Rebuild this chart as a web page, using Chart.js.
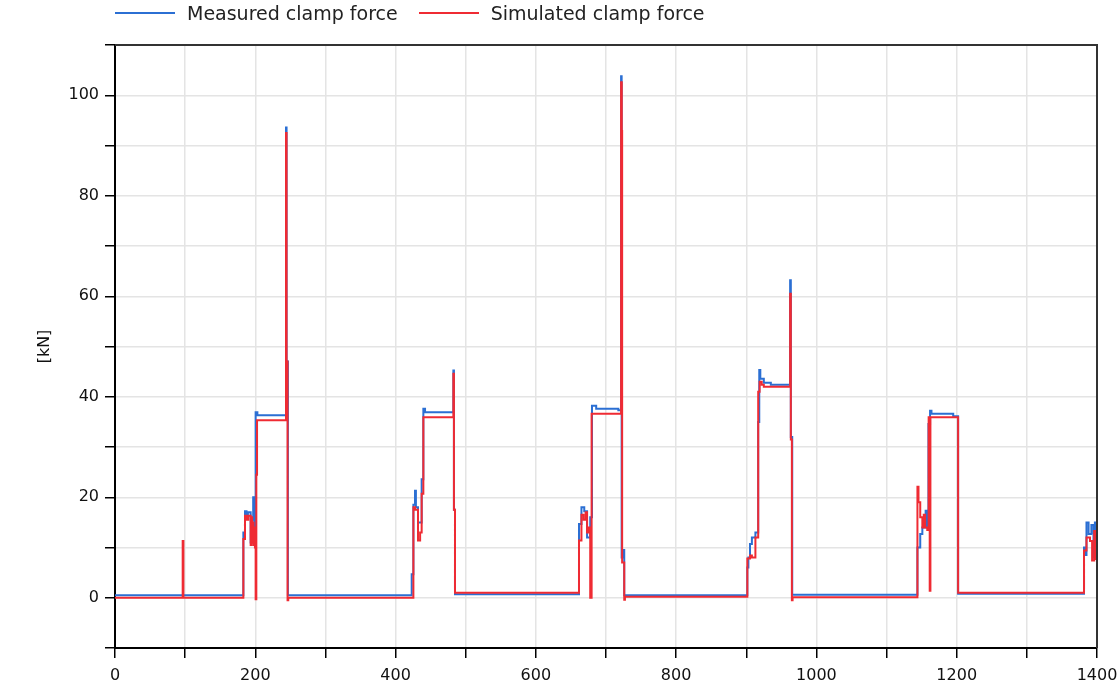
<!DOCTYPE html>
<html>
<head>
<meta charset="utf-8">
<script src="https://cdn.jsdelivr.net/npm/chart.js@4.4.1/dist/chart.umd.min.js"></script>
<style>
  body { margin: 0; background: #fff; }
  #wrap { position: relative; width: 1118px; height: 691px; }
  #legend { position: absolute; left: 115px; top: 0; height: 26px; display: flex; align-items: center;
    font-family: 'DejaVu Sans', sans-serif; font-size: 19px; color: #222; }
  #legend .line { display: inline-block; width: 60px; height: 0; border-top: 2px solid; margin-right: 12px; }
  #legend .item { display: flex; align-items: center; margin-right: 21px; }
</style>
</head>
<body>
<div id="wrap">
  <canvas id="clampChart" width="1118" height="691"></canvas>
  <div id="legend"></div>
</div>
<script>
// time [s] where the value changes, and the new value [kN]
const measuredTime = [0, 183, 185.3, 187.5, 189.5, 193.4, 195, 197, 198.5, 200.5, 203, 243.8, 244.6, 246.5,
  423, 425.4, 427.7, 429, 432, 437.2, 439.6, 442, 482.4, 483.2, 484.7,
  661.5, 665, 669, 673, 677.5, 680, 686, 717.6, 721.5, 722.3, 724, 726,
  901.5, 903, 905.3, 908, 913, 917, 918.5, 920, 925, 935, 962.5, 963.5, 965.5,
  1144, 1148, 1151, 1155.7, 1158, 1159.7, 1162, 1164, 1195, 1202,
  1381.5, 1383, 1385, 1388, 1392, 1395, 1397, 1399, 1400];
const measuredValue = [0.5, 13.0, 17.2, 16.4, 17.0, 11.0, 15.5, 20.0, 12.5, 36.9, 36.3, 93.6, 47.0, 0.5,
  4.7, 18.5, 21.3, 18.0, 15.0, 23.6, 37.6, 36.9, 45.2, 17.5, 0.7,
  14.7, 18.0, 17.2, 12.0, 16.0, 38.2, 37.6, 37.3, 103.8, 8.0, 9.5, 0.5,
  6.0, 8.0, 10.7, 12.0, 13.0, 35.0, 45.3, 43.6, 42.8, 42.4, 63.2, 32.0, 0.6,
  10.0, 12.7, 14.0, 17.3, 14.0, 34.6, 37.2, 36.6, 36.1, 0.8,
  10.0, 8.5, 15.0, 12.7, 14.5, 8.0, 15.0, 10.0, 10.0];

const simulatedTime = [0, 96.5, 97.5, 183, 185.3, 188, 190, 193.4, 194.5, 195.5, 196.5, 197.5, 198.5, 199.5,
  200.5, 201.5, 202.5, 243.8, 244.6, 246, 247,
  425.4, 428, 432, 435, 437.2, 439.6, 482.4, 483.2, 484.7,
  661.5, 665, 668, 671, 673, 675, 677.5, 679.5, 721.5, 722.5, 723, 726, 727,
  901.5, 905.3, 908, 913, 917, 919, 922, 925, 962.5, 963.5, 965, 966,
  1144, 1145.5, 1148, 1151, 1153, 1155, 1158, 1160, 1161.5, 1162.5, 1202,
  1381.5, 1385, 1390, 1393, 1396, 1398, 1400];
const simulatedValue = [0, 11.3, 0, 11.7, 16.3, 15.5, 16.3, 10.5, 16.0, 11.0, 15.0, 10.5, 14.0, 10.0,
  -0.3, 24.5, 35.3, 92.5, 47.0, -0.5, 0,
  18.0, 17.5, 11.4, 13.0, 20.7, 35.9, 44.6, 17.5, 1.0,
  11.4, 16.5, 15.5, 17.0, 13.0, 14.0, 0, 36.6, 102.6, 92.9, 7.0, -0.4, 0.2,
  7.8, 8.4, 8.0, 12.0, 41.0, 43.0, 42.4, 42.0, 60.5, 31.5, -0.5, 0.1,
  22.1, 19.0, 16.0, 14.0, 16.5, 14.0, 13.5, 35.9, 1.4, 35.9, 1.0,
  9.4, 12.0, 11.3, 7.4, 13.3, 7.7, 12.0];

const seriesNames = ['Measured clamp force', 'Simulated clamp force'];
const seriesColors = ['#2b6fd3', '#ef2b33'];

const xMin = 0, xMax = 1400, xStep = 100, xLabelStep = 200;
const yMin = -10, yMax = 110, yStep = 10, yLabelStep = 20;

const toPoints = (t, v) => t.map((x, i) => ({ x: x, y: v[i] }));

const tickFont = { family: "'DejaVu Sans', sans-serif", size: 16 };

// box round the plot: top and right edges
const frame = {
  id: 'frame',
  afterDraw(chart) {
    const { ctx, chartArea: a } = chart;
    ctx.save();
    ctx.strokeStyle = '#333';
    ctx.lineWidth = 2;
    ctx.beginPath();
    ctx.moveTo(a.left, a.top);
    ctx.lineTo(a.right, a.top);
    ctx.lineTo(a.right, a.bottom);
    ctx.stroke();
    ctx.restore();
  }
};

const chart = new Chart(document.getElementById('clampChart'), {
  type: 'line',
  data: {
    datasets: [{
      label: seriesNames[0],
      data: toPoints(measuredTime, measuredValue),
      borderColor: seriesColors[0],
      borderWidth: 2,
      stepped: true,
      pointRadius: 0,
      order: 2
    }, {
      label: seriesNames[1],
      data: toPoints(simulatedTime, simulatedValue),
      borderColor: seriesColors[1],
      borderWidth: 2,
      stepped: true,
      pointRadius: 0,
      order: 1
    }]
  },
  options: {
    responsive: false,
    animation: false,
    layout: { padding: { top: 45, right: 21, left: 0, bottom: 0 } },
    plugins: {
      legend: { display: false },
      tooltip: { enabled: false }
    },
    scales: {
      x: {
        type: 'linear',
        min: xMin,
        max: xMax,
        afterFit: (s) => { s.height = 43; s.paddingLeft = 0; s.paddingRight = 0; },
        grid: { color: '#e4e4e4', lineWidth: 1.5, tickColor: '#000', tickLength: 10, tickWidth: 1.5 },
        border: { color: '#000', width: 2 },
        ticks: {
          stepSize: xStep,
          autoSkip: false,
          maxRotation: 0,
          padding: 8,
          color: '#111',
          font: tickFont,
          callback: (v) => (v % xLabelStep === 0 ? v : '')
        }
      },
      y: {
        min: yMin,
        max: yMax,
        afterFit: (s) => { s.width = 115; s.paddingTop = 0; s.paddingBottom = 0; },
        grid: { color: '#e4e4e4', lineWidth: 1.5, tickColor: '#000', tickLength: 10, tickWidth: 1.5 },
        border: { color: '#000', width: 2 },
        title: {
          display: true,
          text: '[kN]',
          color: '#111',
          font: { family: "'DejaVu Sans', sans-serif", size: 16 },
          padding: { top: 35, bottom: 0 }
        },
        ticks: {
          stepSize: yStep,
          autoSkip: false,
          padding: 6,
          color: '#111',
          font: tickFont,
          callback: (v) => (v >= 0 && v <= 100 && v % yLabelStep === 0 ? v : '')
        }
      }
    }
  },
  plugins: [frame]
});

// legend above the plot
const legend = document.getElementById('legend');
chart.data.datasets.forEach((ds) => {
  const item = document.createElement('div');
  item.className = 'item';
  const line = document.createElement('span');
  line.className = 'line';
  line.style.borderTopColor = ds.borderColor;
  const text = document.createElement('span');
  text.textContent = ds.label;
  item.appendChild(line);
  item.appendChild(text);
  legend.appendChild(item);
});
</script>
</body>
</html>
